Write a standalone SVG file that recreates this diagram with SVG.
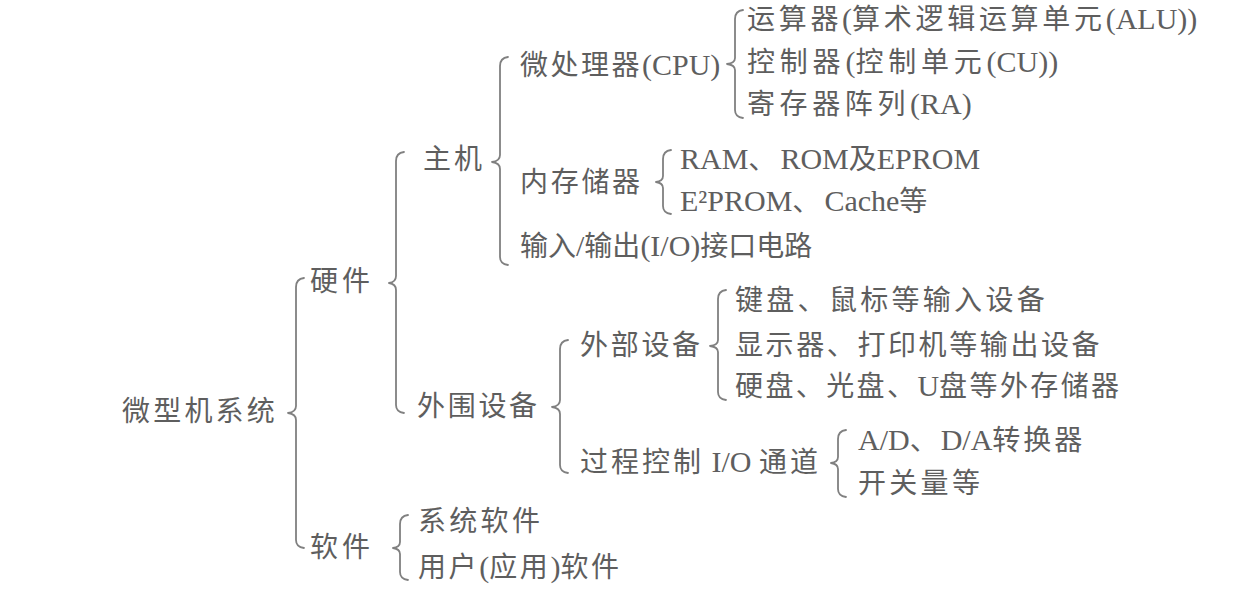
<svg xmlns="http://www.w3.org/2000/svg" width="1259" height="608" viewBox="0 0 1259 608">
<style>
text{font-family:"Liberation Serif","Noto Sans CJK SC",serif;font-size:28px;fill:#5e5e5e}
.l{font-size:30px}
.br{fill:none;stroke:#808080;stroke-width:1.8;stroke-linecap:round;stroke-linejoin:round}
</style>
<rect width="1259" height="608" fill="#ffffff"/>
<g id="connectors">
<path class="br" d="M304 278 Q296 279 296 287 L296 406 Q296 412 288 413 Q296 414 296 420 L296 540 Q296 547 304 548"/>
<path class="br" d="M404 152 Q396 153 396 161 L396 276 Q396 282 389 283 Q396 284 396 290 L396 405 Q396 412 404 413"/>
<path class="br" d="M508 57 Q500 58 500 66 L500 155 Q500 161 492 162 Q500 163 500 169 L500 257 Q500 264 508 265"/>
<path class="br" d="M743 10 Q735 11 735 19 L735 58 Q735 63 727 64 Q735 65 735 70 L735 110 Q735 117 743 118"/>
<path class="br" d="M671 150 Q663 151 663 159 L663 176 Q663 181 656 182 Q663 183 663 188 L663 206 Q663 213 671 214"/>
<path class="br" d="M568 340 Q560 341 560 349 L560 400 Q560 406 552 407 Q560 408 560 414 L560 465 Q560 472 568 473"/>
<path class="br" d="M726 290 Q718 291 718 299 L718 340 Q718 345 710 346 Q718 347 718 352 L718 392 Q718 399 726 400"/>
<path class="br" d="M846 430 Q838 431 838 439 L838 457 Q838 462 831 463 Q838 464 838 469 L838 489 Q838 496 846 497"/>
<path class="br" d="M408 515 Q400 516 400 524 L400 542 Q400 547 393 548 Q400 549 400 554 L400 572 Q400 579 408 580"/>
</g>
<g id="n-root"><text x="122" y="421" letter-spacing="3.2">微型机系统</text></g>
<g id="n-hardware"><text x="310" y="291" letter-spacing="4">硬件</text></g>
<g id="n-software"><text x="310" y="557" letter-spacing="4">软件</text></g>
<g id="n-host"><text x="423" y="169" letter-spacing="3">主机</text></g>
<g id="n-peripheral"><text x="417" y="416" letter-spacing="2.7">外围设备</text></g>
<g id="n-cpu"><text x="520" y="75"><tspan letter-spacing="2.5">微处理器</tspan><tspan class="l">(CPU)</tspan></text></g>
<g id="n-mem"><text x="520" y="192" letter-spacing="2.7">内存储器</text></g>
<g id="n-io"><text x="520" y="256">输入<tspan class="l">/</tspan>输出<tspan class="l">(I/O)</tspan>接口电路</text></g>
<g id="n-alu"><text x="747" y="29"><tspan letter-spacing="3.7">运算器</tspan><tspan class="l">(</tspan><tspan letter-spacing="3.7">算术逻辑运算单元</tspan><tspan class="l">(ALU))</tspan></text></g>
<g id="n-cu"><text x="747" y="72"><tspan letter-spacing="4.8">控制器</tspan><tspan class="l">(</tspan><tspan letter-spacing="4.8">控制单元</tspan><tspan class="l">(CU))</tspan></text></g>
<g id="n-ra"><text x="747" y="114"><tspan letter-spacing="4.6">寄存器阵列</tspan><tspan class="l">(RA)</tspan></text></g>
<g id="n-ram"><text x="680" y="169"><tspan class="l">RAM</tspan><tspan letter-spacing="4">、</tspan><tspan class="l">ROM</tspan>及<tspan class="l">EPROM</tspan></text></g>
<g id="n-e2prom"><text x="680" y="211"><tspan class="l">E²PROM</tspan><tspan letter-spacing="4">、</tspan><tspan class="l">Cache</tspan>等</text></g>
<g id="n-ext"><text x="580" y="355" letter-spacing="2.7">外部设备</text></g>
<g id="n-proc"><text x="580" y="472"><tspan letter-spacing="3">过程控制</tspan><tspan class="l"> I/O </tspan><tspan letter-spacing="3">通道</tspan></text></g>
<g id="n-kbd"><text x="735" y="310" letter-spacing="3.3">键盘、鼠标等输入设备</text></g>
<g id="n-disp"><text x="735" y="355" letter-spacing="2.6">显示器、打印机等输出设备</text></g>
<g id="n-disk"><text x="735" y="396"><tspan letter-spacing="2.4">硬盘、光盘、</tspan><tspan class="l">U</tspan><tspan letter-spacing="2.4">盘等外存储器</tspan></text></g>
<g id="n-adda"><text x="858" y="450"><tspan class="l">A/D</tspan><tspan letter-spacing="3">、</tspan><tspan class="l">D/A</tspan><tspan letter-spacing="3">转换器</tspan></text></g>
<g id="n-switch"><text x="858" y="493" letter-spacing="3.3">开关量等</text></g>
<g id="n-syssw"><text x="418" y="531" letter-spacing="3.3">系统软件</text></g>
<g id="n-usersw"><text x="418" y="577"><tspan letter-spacing="2.6">用户</tspan><tspan class="l">(</tspan><tspan letter-spacing="2.6">应用</tspan><tspan class="l">)</tspan><tspan letter-spacing="2.6">软件</tspan></text></g>
</svg>
